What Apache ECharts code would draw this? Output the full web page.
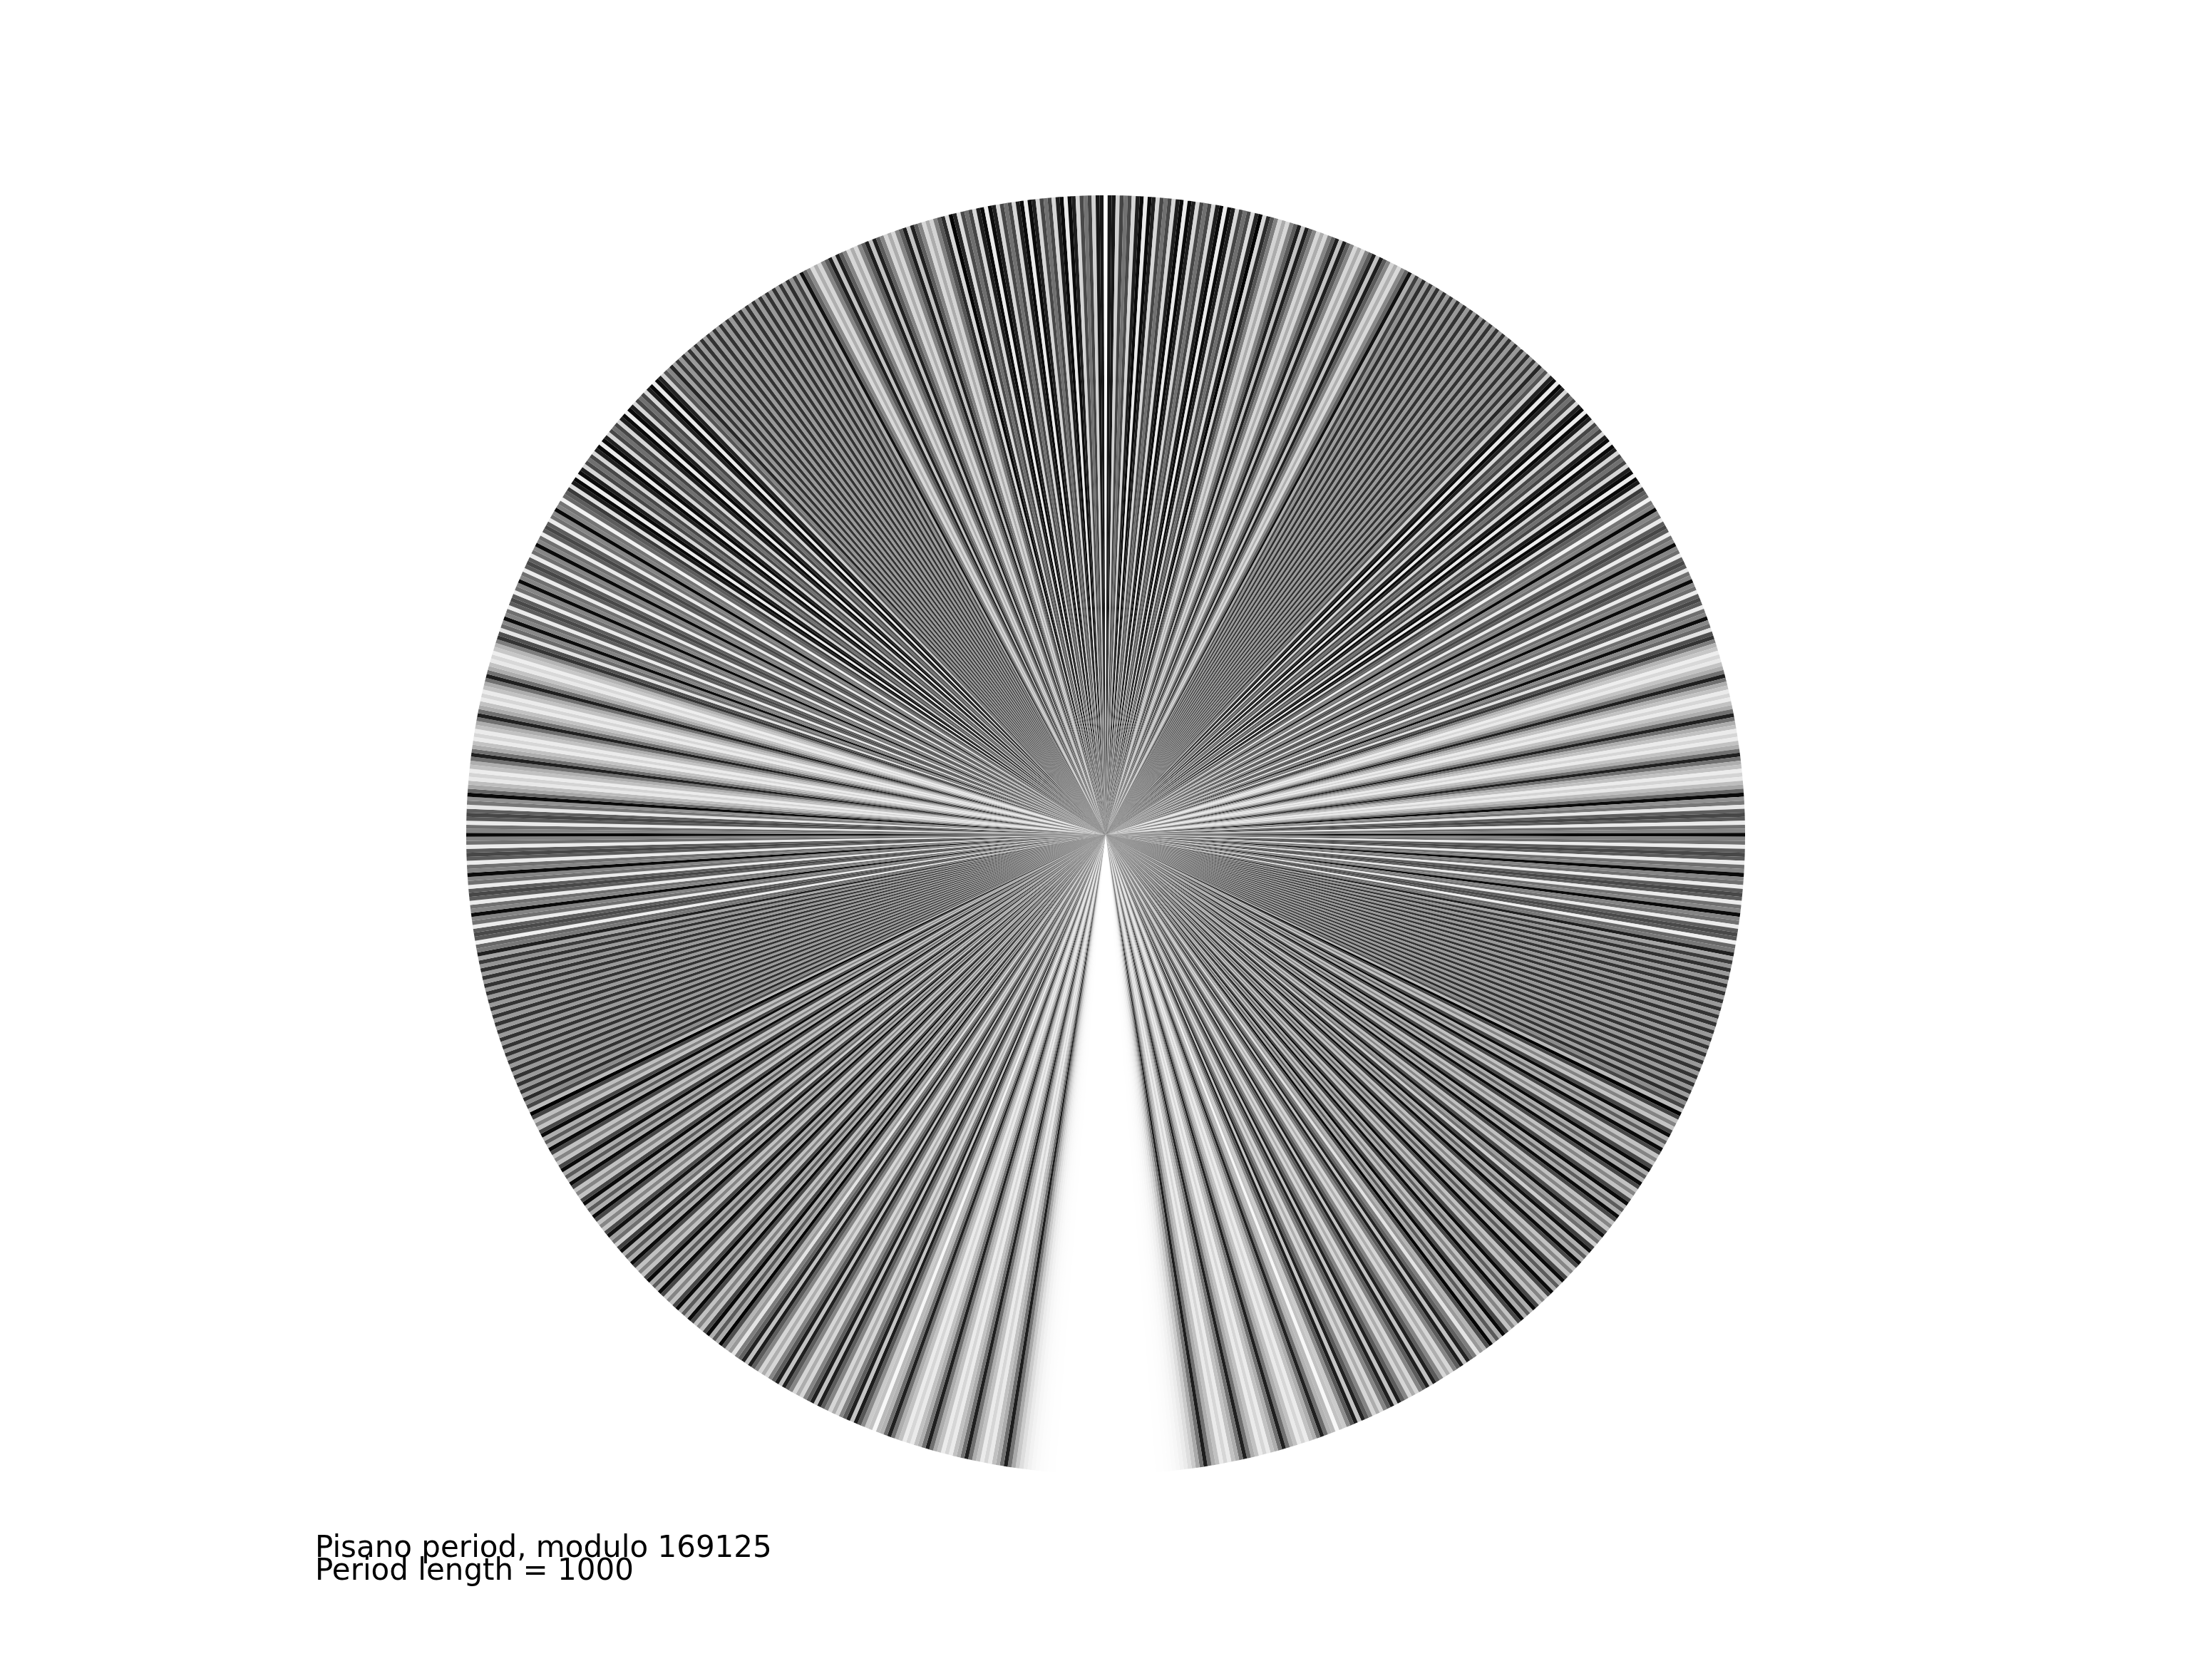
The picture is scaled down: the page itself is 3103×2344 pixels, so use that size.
<!doctype html>
<html>
<head>
<meta charset="utf-8">
<title>Pisano period</title>
<style>
html, body { margin: 0; padding: 0; background: #ffffff; }
#chart { width: 3103px; height: 2344px; }
</style>
</head>
<body>
<div id="chart"></div>
<script src="https://cdn.jsdelivr.net/npm/echarts@6.0.0/dist/echarts.min.js"></script>
<script>
// Fibonacci numbers modulo 169125 over one full Pisano period (1000 terms)
var modulus = 169125;
var periodLength = 1000;

// terms 0..499
var residuesA = [
0, 1, 1, 2, 3, 5, 8, 13, 21, 34,
55, 89, 144, 233, 377, 610, 987, 1597, 2584, 4181,
6765, 10946, 17711, 28657, 46368, 75025, 121393, 27293, 148686, 6854,
155540, 162394, 148809, 142078, 121762, 94715, 47352, 142067, 20294, 162361,
13530, 6766, 20296, 27062, 47358, 74420, 121778, 27073, 148851, 6799,
155650, 162449, 148974, 142298, 122147, 95320, 48342, 143662, 22879, 166541,
20295, 17711, 38006, 55717, 93723, 149440, 74038, 54353, 128391, 13619,
142010, 155629, 128514, 115018, 74407, 20300, 94707, 115007, 40589, 155596,
27060, 13531, 40591, 54122, 94713, 148835, 74423, 54133, 128556, 13564,
142120, 155684, 128679, 115238, 74792, 20905, 95697, 116602, 43174, 159776,
33825, 24476, 58301, 82777, 141078, 54730, 26683, 81413, 108096, 20384,
128480, 148864, 108219, 87958, 27052, 115010, 142062, 87947, 60884, 148831,
40590, 20296, 60886, 81182, 142068, 54125, 27068, 81193, 108261, 20329,
128590, 148919, 108384, 88178, 27437, 115615, 143052, 89542, 63469, 153011,
47355, 31241, 78596, 109837, 19308, 129145, 148453, 108473, 87801, 27149,
114950, 142099, 87924, 60898, 148822, 40595, 20292, 60887, 81179, 142066,
54120, 27061, 81181, 108242, 20298, 128540, 148838, 108253, 87966, 27094,
115060, 142154, 88089, 61118, 149207, 41200, 21282, 62482, 83764, 146246,
60885, 38006, 98891, 136897, 66663, 34435, 101098, 135533, 67506, 33914,
101420, 135334, 67629, 33838, 101467, 135305, 67647, 33827, 101474, 135301,
67650, 33826, 101476, 135302, 67653, 33830, 101483, 135313, 67671, 33859,
101530, 135389, 67794, 34058, 101852, 135910, 68637, 35422, 104059, 139481,
74415, 44771, 119186, 163957, 114018, 108850, 53743, 162593, 47211, 40679,
87890, 128569, 47334, 6778, 54112, 60890, 115002, 6767, 121769, 128536,
81180, 40591, 121771, 162362, 115008, 108245, 54128, 162373, 47376, 40624,
88000, 128624, 47499, 6998, 54497, 61495, 115992, 8362, 124354, 132716,
87945, 51536, 139481, 21892, 161373, 14140, 6388, 20528, 26916, 47444,
74360, 121804, 27039, 148843, 6757, 155600, 162357, 148832, 142064, 121771,
94710, 47356, 142066, 20297, 162363, 13535, 6773, 20308, 27081, 47389,
74470, 121859, 27204, 149063, 7142, 156205, 163347, 150427, 144649, 125951,
101475, 58301, 159776, 48952, 39603, 88555, 128158, 47588, 6621, 54209,
60830, 115039, 6744, 121783, 128527, 81185, 40587, 121772, 162359, 115006,
108240, 54121, 162361, 47357, 40593, 87950, 128543, 47368, 6786, 54154,
60940, 115094, 6909, 122003, 128912, 81790, 41577, 123367, 164944, 119186,
115005, 65066, 10946, 76012, 86958, 162970, 80803, 74648, 155451, 60974,
47300, 108274, 155574, 94723, 81172, 6770, 87942, 94712, 13529, 108241,
121770, 60886, 13531, 74417, 87948, 162365, 81188, 74428, 155616, 60919,
47410, 108329, 155739, 94943, 81557, 7375, 88932, 96307, 16114, 112421,
128535, 71831, 31241, 103072, 134313, 68260, 33448, 101708, 135156, 67739,
33770, 101509, 135279, 67663, 33817, 101480, 135297, 67652, 33824, 101476,
135300, 67651, 33826, 101477, 135303, 67655, 33833, 101488, 135321, 67684,
33880, 101564, 135444, 67883, 34202, 102085, 136287, 69247, 36409, 105656,
142065, 78596, 51536, 130132, 12543, 142675, 155218, 128768, 114861, 74504,
20240, 94744, 114984, 40603, 155587, 27065, 13527, 40592, 54119, 94711,
148830, 74416, 54121, 128537, 13533, 142070, 155603, 128548, 115026, 74449,
20350, 94799, 115149, 40823, 155972, 27670, 14517, 42187, 56704, 98891,
155595, 85361, 71831, 157192, 59898, 47965, 107863, 155828, 94566, 81269,
6710, 87979, 94689, 13543, 108232, 121775, 60882, 13532, 74414, 87946,
162360, 81181, 74416, 155597, 60888, 47360, 108248, 155608, 94731, 81214,
6820, 88034, 94854, 13763, 108617, 122380, 61872, 15127, 76999, 92126
];

// terms 500..999
var residuesB = [
0, 92126, 92126, 15127, 107253, 122380, 60508, 13763, 74271, 88034,
162305, 81214, 74394, 155608, 60877, 47360, 108237, 155597, 94709, 81181,
6765, 87946, 94711, 13532, 108243, 121775, 60893, 13543, 74436, 87979,
162415, 81269, 74559, 155828, 61262, 47965, 109227, 157192, 97294, 85361,
13530, 98891, 112421, 42187, 154608, 27670, 13153, 40823, 53976, 94799,
148775, 74449, 54099, 128548, 13522, 142070, 155592, 128537, 115004, 74416,
20295, 94711, 115006, 40592, 155598, 27065, 13538, 40603, 54141, 94744,
148885, 74504, 54264, 128768, 13907, 142675, 156582, 130132, 117589, 78596,
27060, 105656, 132716, 69247, 32838, 102085, 134923, 67883, 33681, 101564,
135245, 67684, 33804, 101488, 135292, 67655, 33822, 101477, 135299, 67651,
33825, 101476, 135301, 67652, 33828, 101480, 135308, 67663, 33846, 101509,
135355, 67739, 33969, 101708, 135677, 68260, 34812, 103072, 137884, 71831,
40590, 112421, 153011, 96307, 80193, 7375, 87568, 94943, 13386, 108329,
121715, 60919, 13509, 74428, 87937, 162365, 81177, 74417, 155594, 60886,
47355, 108241, 155596, 94712, 81183, 6770, 87953, 94723, 13551, 108274,
121825, 60974, 13674, 74648, 88322, 162970, 82167, 76012, 158179, 65066,
54120, 119186, 4181, 123367, 127548, 81790, 40213, 122003, 162216, 115094,
108185, 54154, 162339, 47368, 40582, 87950, 128532, 47357, 6764, 54121,
60885, 115006, 6766, 121772, 128538, 81185, 40598, 121783, 162381, 115039,
108295, 54209, 162504, 47588, 40967, 88555, 129522, 48952, 9349, 58301,
67650, 125951, 24476, 150427, 5778, 156205, 161983, 149063, 141921, 121859,
94655, 47389, 142044, 20308, 162352, 13535, 6762, 20297, 27059, 47356,
74415, 121771, 27061, 148832, 6768, 155600, 162368, 148843, 142086, 121804,
94765, 47444, 142209, 20528, 162737, 14140, 7752, 21892, 29644, 51536,
81180, 132716, 44771, 8362, 53133, 61495, 114628, 6998, 121626, 128624,
81125, 40624, 121749, 162373, 114997, 108245, 54117, 162362, 47354, 40591,
87945, 128536, 47356, 6767, 54123, 60890, 115013, 6778, 121791, 128569,
81235, 40679, 121914, 162593, 115382, 108850, 55107, 163957, 49939, 44771,
94710, 139481, 65066, 35422, 100488, 135910, 67273, 34058, 101331, 135389,
67595, 33859, 101454, 135313, 67642, 33830, 101472, 135302, 67649, 33826,
101475, 135301, 67651, 33827, 101478, 135305, 67658, 33838, 101496, 135334,
67705, 33914, 101619, 135533, 68027, 34435, 102462, 136897, 70234, 38006,
108240, 146246, 85361, 62482, 147843, 41200, 19918, 61118, 81036, 142154,
54065, 27094, 81159, 108253, 20287, 128540, 148827, 108242, 87944, 27061,
115005, 142066, 87946, 60887, 148833, 40595, 20303, 60898, 81201, 142099,
54175, 27149, 81324, 108473, 20672, 129145, 149817, 109837, 90529, 31241,
121770, 153011, 105656, 89542, 26073, 115615, 141688, 88178, 60741, 148919,
40535, 20329, 60864, 81193, 142057, 54125, 27057, 81182, 108239, 20296,
128535, 148831, 108241, 87947, 27063, 115010, 142073, 87958, 60906, 148864,
40645, 20384, 61029, 81413, 142442, 54730, 28047, 82777, 110824, 24476,
135300, 159776, 125951, 116602, 73428, 20905, 94333, 115238, 40446, 155684,
27005, 13564, 40569, 54133, 94702, 148835, 74412, 54122, 128534, 13531,
142065, 155596, 128536, 115007, 74418, 20300, 94718, 115018, 40611, 155629,
27115, 13619, 40734, 54353, 95087, 149440, 75402, 55717, 131119, 17711,
148830, 166541, 146246, 143662, 120783, 95320, 46978, 142298, 20151, 162449,
13475, 6799, 20274, 27073, 47347, 74420, 121767, 27062, 148829, 6766,
155595, 162361, 148831, 142067, 121773, 94715, 47363, 142078, 20316, 162394,
13585, 6854, 20439, 27293, 47732, 75025, 122757, 28657, 151414, 10946,
162360, 4181, 166541, 1597, 168138, 610, 168748, 233, 168981, 89,
169070, 34, 169104, 13, 169117, 5, 169122, 2, 169124, 1
];

var captionLines = ['Pisano period, modulo ' + modulus, 'Period length = ' + periodLength];

var residues = residuesA.concat(residuesB);
// every term gets the same slice; the residue only drives the grey level
var source = residues.map(function (v, k) {
	return [k, 1, v];
});

var chart = echarts.init(document.getElementById('chart'));
chart.setOption({
	animation: false,
	backgroundColor: '#ffffff',
	dataset: {
		source: source
	},
	visualMap: {
		show: false,
		type: 'continuous',
		seriesIndex: 0,
		dimension: 2,
		min: 0,
		max: modulus,
		inRange: {
			color: ['#ffffff', '#000000', '#ffffff']
		}
	},
	series: [{
		type: 'pie',
		center: [1551, 1171],
		radius: [0, 897],
		startAngle: 270.18,
		clockwise: true,
		padAngle: 0,
		minAngle: 0,
		avoidLabelOverlap: false,
		silent: true,
		encode: { itemName: 0, value: 1 },
		label: { show: false },
		labelLine: { show: false },
		emphasis: { disabled: true },
		itemStyle: { borderWidth: 0 }
	}],
	graphic: captionLines.map(function (t, i) {
		return {
			type: 'text',
			x: 442,
			y: 2173 + i * 32,
			silent: true,
			style: {
				text: t,
				font: '42px "DejaVu Sans"',
				fill: '#000000',
				align: 'left',
				verticalAlign: 'middle'
			}
		};
	})
});
</script>
</body>
</html>
